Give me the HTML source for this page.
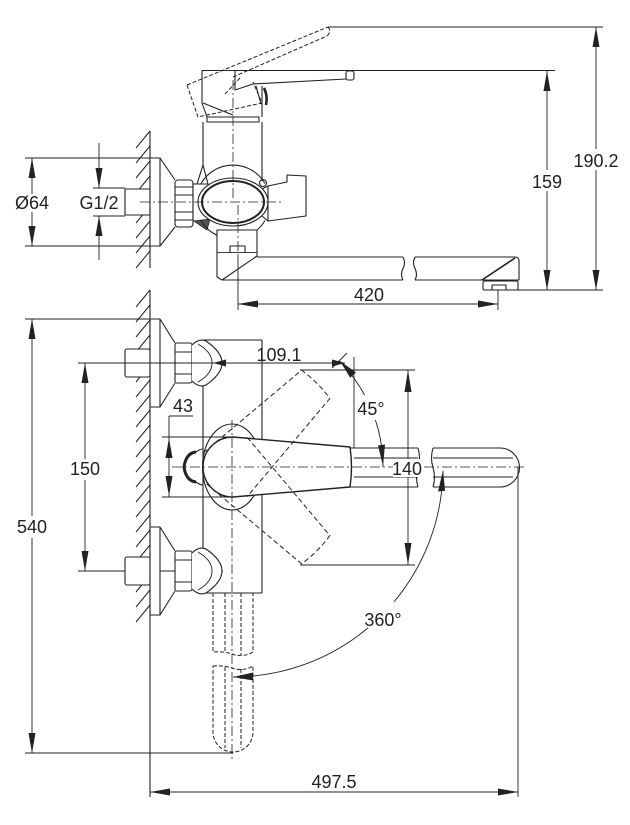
<!DOCTYPE html>
<html><head><meta charset="utf-8">
<style>
html,body{margin:0;padding:0;background:#fff;}
svg{display:block;}
text{font-family:"Liberation Sans",Arial,sans-serif;font-size:18px;fill:#222;text-anchor:middle;}
</style></head><body>
<svg width="630" height="825" viewBox="0 0 630 825" xmlns="http://www.w3.org/2000/svg">
<rect width="630" height="825" fill="#fff"/>
<g fill="none" stroke="#222" stroke-width="1.1" stroke-linejoin="round">

<!-- ================= TOP VIEW ================= -->
<path d="M150,131 V268"/>
<path stroke-width="1" d="M150,131 l-14,17 M150,146 l-14,17 M150,161 l-14,17 M150,176 l-14,17 M150,191 l-14,17 M150,206 l-14,17 M150,221 l-14,17 M150,236 l-14,17 M150,251 l-14,17"/>

<path stroke-width="0.9" d="M25,158 H160 M25,246 H160 M32,158 V194 M32,212 V246"/>
<path stroke-width="0.9" d="M93,188 H125 M93,216 H125 M99,143 V188 M99,216 V260"/>

<rect x="125" y="189" width="25" height="26" fill="#fff"/>
<rect x="150" y="158" width="10" height="88" fill="#fff"/>
<path d="M160,158 L175,180 M160,246 L175,227"/>
<rect x="175" y="180" width="18" height="47" rx="3" fill="#fff"/>
<path stroke-width="0.9" d="M175,187 H193 M175,195 H193 M175,212 H193 M175,220 H193"/>

<rect x="193" y="184" width="15" height="37" fill="#fff"/>
<path d="M197,184 L203,165 L208,184"/>
<polygon points="194,221 207,230 210,219" fill="#555" stroke-width="0.8"/>

<polygon points="268,186 287,182 287,175 306,176 306,216 268,221" fill="#fff"/>
<path d="M262,189 L268,186 M262,216 L268,221"/>
<circle cx="263" cy="183" r="3.5" fill="#fff"/>

<path d="M203,122 V166 M262,122 V181"/>

<path d="M201,183.5 A37,37 0 0 1 265,183.5"/>
<path d="M265,220.5 A37,37 0 0 1 201,220.5"/>
<ellipse cx="233" cy="202" rx="35" ry="24" fill="#fff"/>
<ellipse cx="233" cy="202" rx="31" ry="21" stroke-width="2"/>

<rect x="217" y="230" width="40" height="23" fill="#fff"/>
<rect x="230" y="246" width="15" height="7"/>
<path d="M217,253 L257,253" stroke-width="1.8"/>
<path d="M217,253 L217,277 L222,280 L257,256 L257,253" fill="#fff"/>

<path d="M257,257 H403 M222,280 H403"/>
<path d="M403,257 q3,6 0,11.5 q-3,6 0,11.5"/>
<path d="M415,257 q-3,6 0,11.5 q3,6 0,11.5"/>
<path d="M415,257 H515 Q519,257 519,261 V280 H415"/>
<path d="M515,258 L482,280" stroke-width="1.6"/>
<rect x="483" y="281" width="35" height="9" rx="1.5"/>
<rect x="492" y="285" width="14" height="5"/>

<path stroke-dasharray="4 2" stroke-width="1" d="M187,85 L328,27 M233,77 L327,36 M328,27 Q332,31 327,36 M187,85 L198,117 L262,103 L253,82 M225,94 L240,78"/>
<path d="M202,70.5 H352"/>
<path stroke-width="0.9" d="M352,70.5 H555"/>
<path d="M202,70.5 V103 L207,117 M203,103 L233,115"/>
<path d="M235,70.5 V90 L253,84 L346,79"/>
<rect x="346" y="71" width="8" height="9" rx="2" fill="#fff"/>
<path d="M256,86 L261,104 M262,86 V117"/>
<path d="M264,88 q4,8 2,17" stroke-width="2.6"/>
<rect x="207" y="117" width="52" height="5" fill="#fff"/>

<g stroke-dasharray="10 3 2 3" stroke-width="0.8">
<path d="M233,80 V200"/>
<path d="M140,202 H282"/>
<path d="M238,205 V256"/>
</g>
<path stroke-width="0.9" d="M238,256 V310"/>
<path stroke-width="0.9" d="M498,290 V310"/>

<path stroke-width="0.9" d="M238,304 H498"/>
<path stroke-width="0.9" d="M328,27 H603 M517,290 H603 M547,71 V170 M547,191 V290 M596,27 V149 M596,170 V290"/>

<!-- ================= FRONT VIEW ================= -->
<path d="M150,290 V797"/>
<path stroke-width="1" d="M150,290 l-14,17 M150,305 l-14,17 M150,320 l-14,17 M150,335 l-14,17 M150,350 l-14,17 M150,365 l-14,17 M150,380 l-14,17 M150,395 l-14,17 M150,410 l-14,17 M150,425 l-14,17 M150,440 l-14,17 M150,455 l-14,17 M150,470 l-14,17 M150,485 l-14,17 M150,500 l-14,17 M150,515 l-14,17 M150,530 l-14,17 M150,545 l-14,17 M150,560 l-14,17 M150,575 l-14,17 M150,590 l-14,17 M150,605 l-14,17"/>

<path stroke-width="0.9" d="M25,319 H160 M25,753 H233 M32,319 V516 M32,538 V753"/>
<path stroke-width="0.9" d="M78,571 H223 M85,363 V459 M85,480 V571"/>

<path d="M203,340 H262 M203,340 V593 M262,340 V593 M203,593 H262"/>

<g id="cp">
<rect x="125" y="349" width="25" height="28" rx="2" fill="#fff"/>
<rect x="150" y="319" width="10" height="88" fill="#fff"/>
<path d="M160,319 L175,343 M160,407 L175,383"/>
<rect x="175" y="343" width="17" height="40" rx="2" fill="#fff"/>
<path stroke-width="0.9" d="M175,352 H192 M175,374 H192"/>
<path d="M192,345 Q199,338 206,341 Q222,352 222,363 Q222,374 206,385 Q199,388 192,381" fill="#fff"/>
<path stroke-width="0.9" d="M198,344 Q212,352 212,363 Q212,374 198,382"/>
</g>
<use href="#cp" transform="translate(0,208)"/>

<path stroke-width="0.9" d="M78,363 H345"/>
<path stroke-width="0.9" d="M354,357 V448"/>
<path stroke-width="0.9" d="M332,368 L347,353"/>

<g stroke-dasharray="4 2" stroke-width="1">
<path d="M213,593 V652 Q225,651 235,655 Q245,657 253,652 V593"/>
<path d="M225,593 V653 M241,593 V655"/>
<path d="M213,666 Q225,665 235,669 Q245,671 253,666 V732 A20,20 0 0 1 213,732 Z"/>
<path d="M225,667 V748 M241,669 V748"/>
</g>

<ellipse cx="232" cy="467" rx="29.5" ry="43" fill="#fff"/>
<path d="M196,452 Q186,453 184,467 Q186,481 196,482" stroke-width="3"/>
<path d="M196,452 Q200,449 203,449 M196,482 Q200,485 203,485"/>

<path d="M233,437 L350,447 Q353,467 350,487 L233,497 A30,30 0 0 1 233,437 Z" fill="#fff" stroke-width="1.4"/>
<path d="M350,448 H418 M350,487 H418 M354,458 H418 M354,477 H418"/>
<path d="M418,448 q3,10 0,19.5 q-3,10 0,19.5"/>
<path d="M433,448 q-3,10 0,19.5 q3,10 0,19.5"/>
<path d="M433,448 H500 A19.5,19.5 0 0 1 500,487 H433 M433,458 H513 M433,477 H513"/>

<g stroke-dasharray="5 3" stroke-width="1">
<path transform="rotate(-45 233 467)" d="M222,436 L350,447 Q353,467 350,487 L222,498"/>
<path transform="rotate(45 233 467)" d="M222,436 L350,447 Q353,467 350,487 L222,498"/>
</g>

<g stroke-dasharray="10 3 2 3" stroke-width="0.8">
<path d="M172,467 H525"/>
<path d="M232,420 V760"/>
</g>

<path stroke-width="0.9" d="M162,437 H233 M162,497 H233 M169,416 H193 M169,416 V497"/>

<path stroke-width="0.9" d="M300,370 H415 M300,565 H415 M408,370 V565"/>

<path stroke-width="0.9" d="M339.1,360.9 A150,150 0 0 1 364.6,395"/>
<path stroke-width="0.9" d="M375.4,420 A150,150 0 0 1 383,467"/>

<path stroke-width="0.9" d="M443,471 A210,210 0 0 1 393.9,602"/>
<path stroke-width="0.9" d="M368,627.9 A210,210 0 0 1 233,677"/>

<path stroke-width="0.9" d="M518,467 V797 M150,792 H518"/>
</g>

<g fill="#222" stroke="none">
<polygon points="32,158 28.5,178 35.5,178"/>
<polygon points="32,246 28.5,226 35.5,226"/>
<polygon points="99,188 95.5,168 102.5,168"/>
<polygon points="99,216 95.5,236 102.5,236"/>
<polygon points="238,304 258,300.5 258,307.5"/>
<polygon points="498,304 478,300.5 478,307.5"/>
<polygon points="547,71 543.5,91 550.5,91"/>
<polygon points="547,290 543.5,270 550.5,270"/>
<polygon points="596,27 592.5,47 599.5,47"/>
<polygon points="596,290 592.5,270 599.5,270"/>

<polygon points="32,319 28.5,339 35.5,339"/>
<polygon points="32,753 28.5,733 35.5,733"/>
<polygon points="85,363 81.5,383 88.5,383"/>
<polygon points="85,571 81.5,551 88.5,551"/>
<polygon points="169,438 165.5,458 172.5,458"/>
<polygon points="169,496 165.5,476 172.5,476"/>
<polygon points="408,370 404.5,392 411.5,392"/>
<polygon points="408,565 404.5,543 411.5,543"/>
<polygon points="213,363 226,359.5 226,366.5"/>
<polygon points="345,363 332,359.5 332,366.5"/>
<polygon points="340,361 350.2,377.8 356,372.5"/>
<polygon points="383,466 378,445.5 385,444.5"/>
<polygon points="443,470 438.1,491.5 445.1,490.7"/>
<polygon points="233,677 253,672.5 253,680.5"/>
<polygon points="150,792 170,788.5 170,795.5"/>
<polygon points="518,792 498,788.5 498,795.5"/>
</g>

<text x="32" y="209">Ø64</text>
<text x="99" y="209">G1/2</text>
<text x="369" y="301">420</text>
<text x="547" y="188">159</text>
<text x="596" y="167">190.2</text>
<text x="279" y="361">109.1</text>
<text x="371" y="415">45°</text>
<rect x="393" y="459" width="30" height="18" fill="#fff"/>
<text x="407" y="475">140</text>
<text x="183" y="412">43</text>
<text x="85" y="475">150</text>
<text x="32" y="533">540</text>
<text x="383" y="626">360°</text>
<text x="334" y="788">497.5</text>
</svg>
</body></html>
